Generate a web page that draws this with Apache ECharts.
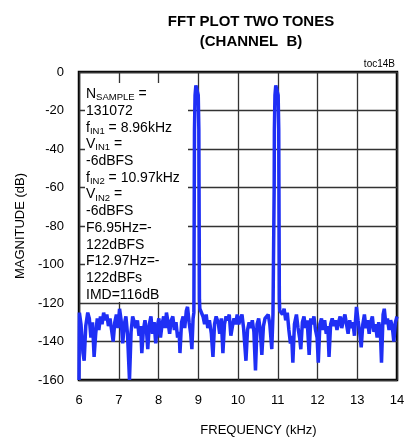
<!DOCTYPE html>
<html>
<head>
<meta charset="utf-8">
<script src="https://cdn.jsdelivr.net/npm/echarts@6/dist/echarts.min.js"></script>
<style>
  html, body { margin: 0; padding: 0; background: #fff; }
  #chart { width: 412px; height: 438px; }
</style>
</head>
<body>
<div id="chart"></div>
<script>
// noise floor, [kHz, dB]
var noise = [
  [6.00, -160], [6.01, -125], [6.05, -131], [6.10, -146], [6.13, -150], [6.17, -132],
  [6.22, -125], [6.26, -128], [6.30, -138], [6.34, -130], [6.38, -148], [6.42, -136],
  [6.46, -128], [6.50, -134], [6.54, -127], [6.58, -131], [6.62, -125], [6.66, -129],
  [6.70, -126], [6.74, -132], [6.78, -128], [6.82, -134], [6.86, -140], [6.90, -130],
  [6.94, -126], [6.98, -133], [7.02, -123], [7.06, -129], [7.10, -141], [7.14, -131],
  [7.18, -127], [7.22, -136], [7.27, -160], [7.31, -135], [7.35, -127], [7.39, -126],
  [7.43, -133], [7.47, -129], [7.51, -137], [7.55, -132], [7.58, -146], [7.62, -134],
  [7.66, -129], [7.70, -135], [7.73, -144], [7.77, -131], [7.81, -127], [7.85, -136],
  [7.89, -130], [7.93, -141], [7.97, -132], [8.01, -128], [8.05, -138], [8.09, -131],
  [8.13, -127], [8.17, -133], [8.20, -125], [8.24, -130], [8.28, -136], [8.32, -129],
  [8.36, -127], [8.40, -134], [8.44, -130], [8.48, -138], [8.52, -135], [8.54, -146],
  [8.58, -130], [8.62, -127], [8.66, -133], [8.70, -124], [8.73, -122], [8.77, -130],
  [8.81, -136], [8.84, -144], [8.87, -128],
  [9.08, -122], [9.12, -127], [9.16, -131], [9.20, -126], [9.24, -133], [9.28, -129],
  [9.33, -136], [9.37, -148], [9.41, -131], [9.45, -127], [9.50, -130], [9.54, -136],
  [9.58, -128], [9.62, -146], [9.66, -131], [9.70, -127], [9.74, -129], [9.78, -126],
  [9.82, -137], [9.86, -132], [9.90, -128], [9.94, -131], [9.98, -126], [10.02, -131],
  [10.06, -128], [10.10, -126], [10.14, -133], [10.20, -150], [10.24, -134], [10.28, -130],
  [10.32, -133], [10.36, -129], [10.40, -135], [10.44, -155], [10.48, -131], [10.52, -128],
  [10.56, -134], [10.60, -147], [10.64, -132], [10.68, -128], [10.72, -127], [10.76, -126],
  [10.80, -131], [10.85, -144], [10.88, -126],
  [11.08, -124], [11.12, -126], [11.16, -123], [11.20, -129], [11.24, -125], [11.28, -134],
  [11.32, -141], [11.35, -137], [11.38, -151], [11.42, -131], [11.47, -126], [11.51, -133],
  [11.55, -138], [11.58, -144], [11.62, -130], [11.66, -127], [11.70, -133], [11.74, -129],
  [11.79, -147], [11.83, -128], [11.87, -131], [11.91, -127], [11.95, -134], [11.99, -138],
  [12.02, -151], [12.06, -131], [12.10, -128], [12.14, -134], [12.18, -129], [12.22, -136],
  [12.26, -132], [12.29, -148], [12.33, -131], [12.37, -128], [12.41, -132], [12.45, -129],
  [12.49, -134], [12.53, -130], [12.57, -127], [12.61, -133], [12.65, -129], [12.69, -126],
  [12.73, -131], [12.77, -136], [12.81, -129], [12.85, -133], [12.89, -130], [12.93, -137],
  [12.98, -122], [13.02, -129], [13.06, -135], [13.10, -143], [13.14, -131], [13.18, -126],
  [13.22, -133], [13.26, -129], [13.30, -136], [13.34, -130], [13.38, -127], [13.42, -135],
  [13.46, -131], [13.50, -138], [13.54, -130], [13.58, -134], [13.61, -151], [13.65, -126],
  [13.68, -123], [13.72, -131], [13.76, -128], [13.80, -134], [13.84, -129], [13.88, -132],
  [13.92, -140], [13.96, -130], [14.00, -127]
]

// the two tones
var tone1 = [
  [8.89, -125], [8.90, -60], [8.905, -30], [8.92, -12], [8.94, -7], [8.96, -6],
  [8.98, -7], [9.00, -12], [9.015, -30], [9.02, -60], [9.03, -118], [9.04, -123]
]
var tone2 = [
  [10.90, -125], [10.91, -60], [10.915, -30], [10.93, -12], [10.95, -7], [10.97, -6],
  [10.99, -7], [11.01, -12], [11.025, -30], [11.03, -60], [11.04, -118], [11.05, -124]
]

var notes = [
  'N{s|SAMPLE} =',
  '131072',
  'f{s|IN1} = 8.96kHz',
  'V{s|IN1} =',
  '-6dBFS',
  'f{s|IN2} = 10.97kHz',
  'V{s|IN2} =',
  '-6dBFS',
  'F6.95Hz=-',
  '122dBFS',
  'F12.97Hz=-',
  '122dBFs',
  'IMD=116dB'
]

var spectrum = noise.concat(tone1, tone2).sort(function (a, b) { return a[0] - b[0] })

var font = 'Liberation Sans, Arial, sans-serif'
var chart = echarts.init(document.getElementById('chart'))

var option = {
  animation: false,
  textStyle: { fontFamily: font },
  title: {
    text: 'FFT PLOT TWO TONES\n(CHANNEL  B)',
    left: 246,
    top: 7,
    textAlign: 'center',
    textStyle: {
      fontFamily: font,
      fontSize: 15,
      fontWeight: 'bold',
      color: '#000',
      lineHeight: 20
    }
  },
  grid: {
    left: 79,
    right: 15,
    top: 72,
    bottom: 58,
    outerBoundsMode: 'none',
    show: true,
    borderColor: '#000',
    borderWidth: 2.5
  },
  xAxis: {
    type: 'value',
    min: 6,
    max: 14,
    interval: 1,
    name: 'FREQUENCY (kHz)',
    nameLocation: 'middle',
    nameGap: 44,
    nameTextStyle: { fontSize: 13, color: '#000', padding: [0, 0, 0, 41] },
    axisLine: { show: false },
    axisTick: { show: false },
    axisLabel: { fontSize: 13, color: '#000', margin: 14 },
    splitLine: { lineStyle: { color: '#333', width: 1.3 } }
  },
  yAxis: {
    type: 'value',
    min: -160,
    max: 0,
    interval: 20,
    name: 'MAGNITUDE (dB)',
    nameLocation: 'middle',
    nameGap: 47,
    nameTextStyle: { fontSize: 13, color: '#000' },
    axisLine: { show: false },
    axisTick: { show: false },
    axisLabel: { fontSize: 13, color: '#000', margin: 15 },
    splitLine: { lineStyle: { color: '#333', width: 1.3 } }
  },
  graphic: [
    {
      type: 'rect',
      z: 1,
      shape: { x: 85, y: 83, width: 103, height: 219 },
      style: { fill: '#fff' }
    },
    {
      type: 'text',
      z: 2,
      left: 86,
      top: 86,
      style: {
        text: notes.join('\n'),
        fontFamily: font,
        fontSize: 14,
        lineHeight: 16.7,
        fill: '#000',
        rich: {
          s: { fontSize: 9.5, fontFamily: font, verticalAlign: 'bottom', lineHeight: 13, fill: '#000' }
        }
      }
    },
    {
      type: 'text',
      right: 17,
      top: 59,
      style: { text: 'toc14B', fontFamily: font, fontSize: 10, fill: '#000' }
    }
  ],
  series: [
    {
      type: 'line',
      data: spectrum,
      showSymbol: false,
      smooth: false,
      z: 3,
      lineStyle: { color: '#1f2ff5', width: 3.5 }
    }
  ]
}
chart.setOption(option)
</script>
</body>
</html>
